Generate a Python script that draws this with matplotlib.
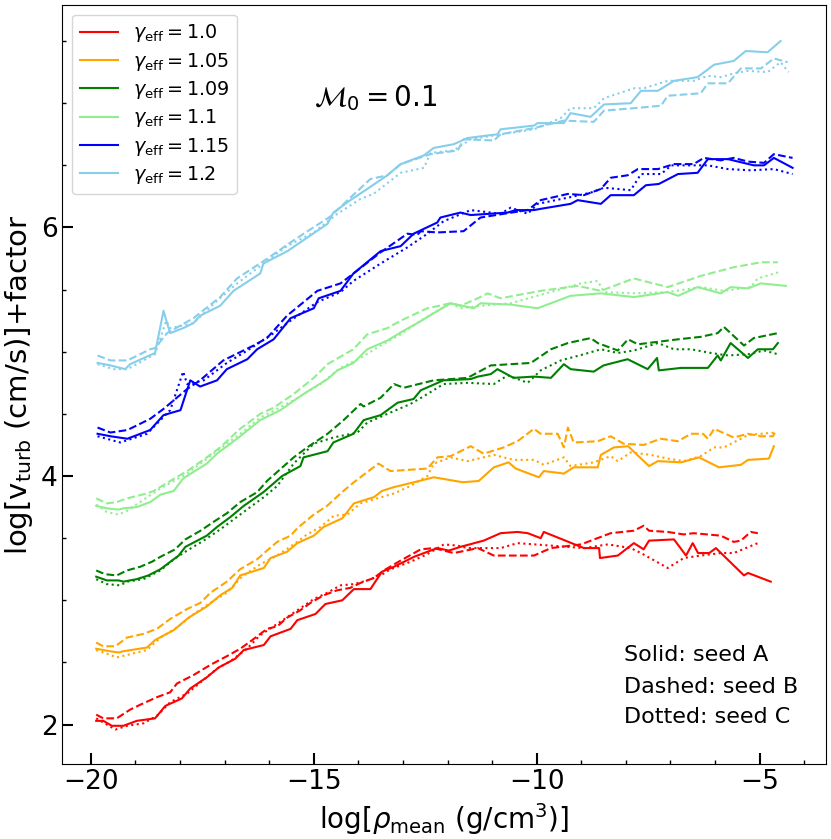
import numpy as np
import matplotlib
matplotlib.use("Agg")
import matplotlib.pyplot as plt
from matplotlib.ticker import MultipleLocator

# (log rho_mean, log v_turb + factor), one array per seed
g100_A = np.array([(-19.88,2.03),(-19.72,2.03),(-19.53,1.99),(-19.27,1.99),(-18.97,2.03),(-18.56,2.05),(-18.33,2.15),(-17.96,2.21),(-17.77,2.29),(-17.40,2.38),(-17.13,2.46),(-16.76,2.53),(-16.57,2.60),(-16.12,2.64),(-15.97,2.71),(-15.52,2.77),(-15.37,2.84),(-14.96,2.89),(-14.74,2.97),(-14.36,3.00),(-14.10,3.09),(-13.73,3.09),(-13.47,3.23),(-13.20,3.27),(-12.75,3.35),(-12.23,3.42),(-11.97,3.40),(-11.71,3.43),(-11.19,3.48),(-10.81,3.54),(-10.43,3.55),(-10.20,3.54),(-9.91,3.50),(-9.84,3.55),(-8.94,3.42),(-8.60,3.42),(-8.58,3.34),(-8.18,3.36),(-7.82,3.46),(-7.60,3.41),(-7.48,3.48),(-6.92,3.49),(-6.65,3.36),(-6.50,3.46),(-6.38,3.38),(-6.13,3.38),(-5.98,3.42),(-5.35,3.20),(-5.26,3.22),(-4.75,3.15)])
g100_B = np.array([(-19.88,2.08),(-19.72,2.05),(-19.42,2.05),(-19.12,2.12),(-18.89,2.16),(-18.52,2.22),(-18.22,2.26),(-18.07,2.33),(-17.69,2.40),(-17.32,2.48),(-16.95,2.55),(-16.65,2.61),(-16.38,2.68),(-16.05,2.77),(-15.82,2.79),(-15.60,2.86),(-15.30,2.92),(-15.07,2.98),(-14.78,3.04),(-14.48,3.08),(-14.18,3.10),(-13.95,3.14),(-13.65,3.18),(-13.43,3.24),(-13.05,3.32),(-12.60,3.41),(-12.31,3.42),(-11.86,3.38),(-11.32,3.42),(-10.96,3.36),(-10.06,3.36),(-9.68,3.42),(-9.00,3.45),(-8.71,3.49),(-8.34,3.54),(-7.82,3.56),(-7.60,3.60),(-7.48,3.56),(-7.06,3.55),(-6.70,3.53),(-6.48,3.54),(-5.87,3.52),(-5.58,3.47),(-5.42,3.48),(-5.20,3.55),(-5.04,3.54)])
g100_C = np.array([(-19.88,2.05),(-19.45,1.96),(-19.19,1.99),(-18.82,2.01),(-18.52,2.07),(-18.22,2.18),(-17.84,2.25),(-17.54,2.34),(-17.17,2.45),(-16.87,2.51),(-16.50,2.61),(-16.20,2.72),(-15.82,2.81),(-15.45,2.90),(-15.00,3.01),(-14.70,3.06),(-14.40,3.12),(-14.10,3.13),(-13.80,3.16),(-13.50,3.20),(-13.28,3.25),(-12.83,3.31),(-12.46,3.37),(-12.08,3.45),(-11.78,3.44),(-11.55,3.42),(-10.81,3.42),(-10.43,3.46),(-9.68,3.44),(-8.94,3.42),(-8.40,3.45),(-7.89,3.42),(-7.66,3.38),(-7.06,3.26),(-6.70,3.34),(-6.32,3.36),(-5.87,3.38),(-5.58,3.38),(-5.04,3.46)])

g105_A = np.array([(-19.88,2.61),(-19.57,2.59),(-19.38,2.58),(-19.27,2.59),(-18.74,2.62),(-18.56,2.68),(-18.14,2.76),(-17.81,2.86),(-17.40,2.95),(-17.10,3.04),(-16.83,3.10),(-16.65,3.20),(-16.12,3.26),(-15.97,3.34),(-15.60,3.39),(-15.37,3.46),(-15.00,3.52),(-14.78,3.59),(-14.36,3.66),(-14.10,3.78),(-13.65,3.83),(-13.47,3.88),(-13.21,3.91),(-12.75,3.95),(-12.31,3.99),(-11.66,3.95),(-11.30,3.96),(-10.96,4.07),(-10.63,4.11),(-10.47,4.06),(-9.95,3.99),(-9.84,4.04),(-9.39,4.02),(-9.17,4.07),(-8.63,4.07),(-8.56,4.17),(-8.27,4.23),(-7.95,4.24),(-7.48,4.08),(-7.28,4.12),(-6.76,4.11),(-6.36,4.15),(-5.91,4.07),(-5.42,4.09),(-5.26,4.13),(-4.79,4.14),(-4.68,4.24)])
g105_B = np.array([(-19.88,2.66),(-19.72,2.63),(-19.45,2.63),(-19.19,2.70),(-18.82,2.73),(-18.52,2.77),(-18.22,2.85),(-17.84,2.93),(-17.54,2.98),(-17.32,3.06),(-16.95,3.15),(-16.65,3.25),(-16.27,3.33),(-16.05,3.40),(-15.82,3.47),(-15.52,3.52),(-15.37,3.58),(-15.00,3.69),(-14.70,3.76),(-14.40,3.86),(-14.10,3.95),(-13.55,4.10),(-13.28,4.04),(-12.45,4.06),(-12.23,4.15),(-11.93,4.16),(-11.48,4.24),(-11.19,4.18),(-10.74,4.23),(-10.43,4.28),(-10.06,4.38),(-9.91,4.34),(-9.53,4.34),(-9.39,4.23),(-9.30,4.39),(-9.17,4.27),(-8.63,4.28),(-8.34,4.32),(-8.05,4.26),(-7.60,4.25),(-7.22,4.30),(-6.83,4.28),(-6.54,4.34),(-6.27,4.34),(-6.16,4.30),(-6.02,4.38),(-5.58,4.31),(-5.26,4.34),(-4.97,4.32),(-4.70,4.32),(-4.63,4.37)])
g105_C = np.array([(-19.88,2.60),(-19.64,2.57),(-19.42,2.54),(-19.19,2.56),(-18.74,2.60),(-18.44,2.70),(-18.07,2.78),(-17.69,2.89),(-17.32,2.98),(-16.95,3.06),(-16.61,3.19),(-16.20,3.29),(-15.82,3.36),(-15.45,3.45),(-15.15,3.53),(-14.85,3.59),(-14.55,3.68),(-14.25,3.69),(-13.95,3.78),(-13.58,3.82),(-13.20,3.86),(-12.83,3.92),(-12.45,4.00),(-12.31,4.10),(-11.93,4.15),(-11.55,4.12),(-10.96,4.17),(-10.52,4.13),(-10.06,4.13),(-9.84,4.09),(-9.39,4.15),(-9.24,4.08),(-8.72,4.11),(-8.34,4.16),(-8.18,4.12),(-7.89,4.19),(-7.44,4.17),(-7.06,4.14),(-6.70,4.12),(-6.32,4.16),(-6.02,4.23),(-5.80,4.23),(-5.26,4.33),(-4.97,4.34),(-4.63,4.35)])

g109_A = np.array([(-19.88,3.19),(-19.64,3.16),(-19.38,3.16),(-19.27,3.15),(-18.97,3.17),(-18.71,3.20),(-18.44,3.25),(-18.03,3.36),(-17.88,3.43),(-17.40,3.52),(-17.17,3.59),(-16.87,3.67),(-16.57,3.76),(-16.13,3.87),(-15.71,4.00),(-15.30,4.08),(-15.23,4.15),(-14.69,4.20),(-14.56,4.27),(-14.11,4.34),(-13.88,4.45),(-13.50,4.49),(-13.12,4.59),(-12.76,4.62),(-12.60,4.69),(-12.09,4.77),(-11.48,4.78),(-11.32,4.80),(-11.03,4.82),(-10.88,4.86),(-10.52,4.79),(-10.06,4.80),(-9.68,4.79),(-9.39,4.90),(-9.24,4.86),(-8.72,4.84),(-8.50,4.89),(-7.96,4.94),(-7.51,4.86),(-7.30,4.95),(-7.26,4.85),(-6.76,4.87),(-6.16,4.87),(-5.94,4.97),(-5.87,4.93),(-5.65,5.07),(-5.26,4.95),(-5.04,5.02),(-4.70,5.02),(-4.59,5.07)])
g109_B = np.array([(-19.88,3.24),(-19.68,3.21),(-19.42,3.20),(-19.19,3.24),(-18.89,3.27),(-18.63,3.31),(-18.44,3.35),(-18.11,3.41),(-17.88,3.49),(-17.54,3.56),(-17.21,3.64),(-16.95,3.70),(-16.65,3.79),(-16.27,3.87),(-16.05,3.96),(-15.45,4.15),(-15.15,4.23),(-14.69,4.34),(-14.33,4.45),(-13.95,4.58),(-13.88,4.56),(-13.50,4.63),(-13.20,4.74),(-12.98,4.71),(-12.76,4.73),(-12.31,4.77),(-11.55,4.79),(-11.03,4.89),(-10.58,4.90),(-10.13,4.91),(-9.68,5.02),(-9.30,5.07),(-8.79,5.11),(-8.63,5.07),(-8.18,5.01),(-7.95,5.10),(-7.73,5.06),(-7.28,5.08),(-6.83,5.10),(-6.32,5.12),(-5.94,5.15),(-5.80,5.20),(-5.35,5.05),(-5.13,5.11),(-4.59,5.15)])
g109_C = np.array([(-19.88,3.17),(-19.64,3.13),(-19.34,3.12),(-19.19,3.15),(-18.82,3.17),(-18.44,3.24),(-18.14,3.33),(-17.84,3.40),(-17.47,3.48),(-17.10,3.57),(-16.80,3.65),(-16.50,3.73),(-16.12,3.83),(-15.82,3.92),(-15.45,4.10),(-15.00,4.26),(-14.56,4.31),(-14.02,4.35),(-13.80,4.43),(-13.35,4.50),(-12.83,4.58),(-12.45,4.66),(-12.09,4.74),(-11.55,4.75),(-10.96,4.74),(-10.65,4.81),(-10.20,4.75),(-9.91,4.85),(-9.46,4.93),(-8.94,4.98),(-8.56,5.02),(-8.18,4.99),(-7.82,5.01),(-7.28,5.07),(-6.92,5.02),(-6.54,5.02),(-6.09,4.99),(-5.71,4.97),(-5.26,4.98),(-4.90,5.01),(-4.59,4.98)])

g110_A = np.array([(-19.88,3.76),(-19.64,3.74),(-19.38,3.73),(-19.27,3.74),(-18.97,3.75),(-18.67,3.79),(-18.44,3.85),(-18.14,3.88),(-17.93,3.98),(-17.40,4.10),(-17.17,4.18),(-16.72,4.30),(-16.20,4.45),(-15.75,4.53),(-15.23,4.66),(-14.69,4.78),(-14.47,4.85),(-14.11,4.91),(-13.80,5.02),(-13.35,5.09),(-12.98,5.17),(-12.68,5.23),(-12.31,5.31),(-11.93,5.39),(-11.41,5.35),(-11.26,5.39),(-10.60,5.38),(-9.98,5.35),(-9.24,5.45),(-8.56,5.47),(-7.82,5.44),(-7.06,5.48),(-6.83,5.45),(-6.39,5.52),(-5.87,5.47),(-5.65,5.52),(-5.26,5.51),(-4.97,5.55),(-4.41,5.53)])
g110_B = np.array([(-19.88,3.82),(-19.64,3.78),(-19.42,3.79),(-19.19,3.82),(-18.74,3.86),(-18.59,3.88),(-18.22,3.96),(-17.84,4.04),(-17.40,4.15),(-17.10,4.23),(-16.65,4.38),(-16.20,4.50),(-15.90,4.55),(-15.45,4.66),(-15.00,4.79),(-14.69,4.90),(-14.11,5.02),(-13.80,5.14),(-13.35,5.19),(-13.05,5.25),(-12.45,5.35),(-11.93,5.39),(-11.71,5.37),(-11.32,5.43),(-11.10,5.47),(-10.81,5.43),(-9.91,5.49),(-9.08,5.53),(-8.56,5.49),(-7.82,5.59),(-7.06,5.52),(-6.32,5.61),(-5.58,5.68),(-4.97,5.72),(-4.59,5.72)])
g110_C = np.array([(-19.88,3.77),(-19.64,3.71),(-19.38,3.69),(-19.19,3.72),(-18.44,3.90),(-17.84,4.02),(-17.25,4.18),(-16.65,4.34),(-16.20,4.47),(-15.45,4.61),(-14.85,4.74),(-14.40,4.87),(-13.95,4.95),(-13.50,5.05),(-13.05,5.14),(-12.60,5.25),(-12.23,5.33),(-11.93,5.39),(-11.71,5.35),(-11.26,5.37),(-10.58,5.39),(-9.30,5.52),(-9.01,5.55),(-8.63,5.57),(-8.49,5.48),(-7.82,5.47),(-7.06,5.48),(-6.32,5.52),(-5.80,5.49),(-5.20,5.52),(-5.04,5.59),(-4.57,5.64)])

g115_A = np.array([(-19.85,4.34),(-19.56,4.32),(-19.18,4.30),(-18.67,4.37),(-18.37,4.49),(-17.99,4.53),(-17.77,4.77),(-17.55,4.72),(-17.17,4.77),(-16.95,4.86),(-16.49,4.94),(-16.27,5.02),(-15.90,5.10),(-15.52,5.27),(-15.00,5.35),(-14.89,5.43),(-14.40,5.49),(-14.11,5.63),(-13.50,5.81),(-13.05,5.85),(-12.76,5.95),(-12.23,6.04),(-12.16,6.08),(-11.71,6.12),(-11.48,6.10),(-10.65,6.12),(-10.47,6.14),(-10.06,6.14),(-9.91,6.15),(-9.24,6.19),(-9.08,6.22),(-8.56,6.19),(-8.34,6.26),(-7.82,6.26),(-7.55,6.34),(-7.26,6.35),(-6.83,6.43),(-6.39,6.44),(-6.16,6.55),(-5.71,6.55),(-5.13,6.50),(-4.90,6.50),(-4.68,6.56),(-4.26,6.48)])
g115_B = np.array([(-19.85,4.39),(-19.56,4.35),(-19.18,4.37),(-18.67,4.46),(-18.37,4.54),(-17.84,4.70),(-17.55,4.77),(-17.03,4.93),(-16.35,5.05),(-16.05,5.11),(-15.60,5.29),(-14.92,5.49),(-14.40,5.55),(-14.18,5.61),(-13.50,5.80),(-12.90,5.95),(-12.68,5.94),(-12.60,5.97),(-12.23,5.96),(-11.64,5.97),(-11.26,6.08),(-10.74,6.11),(-10.20,6.14),(-9.91,6.22),(-9.30,6.27),(-8.94,6.26),(-8.56,6.31),(-8.34,6.40),(-7.96,6.42),(-7.73,6.47),(-7.28,6.47),(-6.92,6.51),(-6.48,6.51),(-6.25,6.56),(-5.87,6.54),(-5.58,6.56),(-5.26,6.53),(-4.90,6.52),(-4.68,6.59),(-4.26,6.56)])
g115_C = np.array([(-19.85,4.32),(-19.34,4.27),(-18.74,4.34),(-18.44,4.45),(-18.22,4.53),(-17.93,4.84),(-17.84,4.74),(-17.47,4.77),(-16.95,4.91),(-16.49,5.01),(-15.90,5.15),(-15.52,5.25),(-14.92,5.40),(-14.40,5.48),(-14.11,5.57),(-13.50,5.71),(-12.90,5.84),(-12.45,5.95),(-12.09,6.05),(-11.48,6.14),(-10.81,6.11),(-10.58,6.16),(-10.20,6.11),(-9.98,6.19),(-9.30,6.24),(-8.79,6.28),(-8.49,6.32),(-7.89,6.30),(-7.66,6.43),(-7.21,6.43),(-6.98,6.50),(-6.48,6.50),(-6.16,6.50),(-5.71,6.47),(-5.20,6.46),(-4.68,6.47),(-4.26,6.43)])

g120_A = np.array([(-19.85,4.91),(-19.56,4.89),(-19.23,4.86),(-19.12,4.90),(-18.56,4.99),(-18.37,5.33),(-18.29,5.23),(-18.22,5.15),(-17.93,5.19),(-17.70,5.23),(-17.55,5.29),(-17.10,5.37),(-16.80,5.49),(-16.20,5.63),(-16.13,5.71),(-15.59,5.81),(-15.14,5.92),(-14.69,6.03),(-14.56,6.12),(-14.18,6.22),(-13.80,6.31),(-13.35,6.42),(-13.05,6.51),(-12.53,6.58),(-12.31,6.64),(-11.86,6.67),(-11.55,6.72),(-10.88,6.75),(-10.81,6.79),(-10.06,6.82),(-9.98,6.84),(-9.39,6.84),(-9.24,6.92),(-8.79,6.89),(-8.49,6.99),(-7.89,7.00),(-7.66,7.10),(-7.28,7.10),(-6.92,7.18),(-6.39,7.21),(-6.02,7.31),(-5.58,7.34),(-5.31,7.42),(-4.82,7.41),(-4.53,7.50)])
g120_B = np.array([(-19.85,4.97),(-19.56,4.93),(-19.18,4.93),(-18.67,5.02),(-18.56,5.03),(-18.29,5.15),(-17.70,5.27),(-17.10,5.44),(-16.72,5.59),(-16.04,5.75),(-15.52,5.88),(-15.14,5.97),(-14.62,6.09),(-14.18,6.24),(-13.73,6.39),(-13.35,6.42),(-13.05,6.51),(-12.38,6.59),(-11.77,6.62),(-11.64,6.71),(-10.96,6.70),(-10.81,6.75),(-10.06,6.80),(-9.39,6.86),(-8.72,6.85),(-8.49,6.94),(-7.82,6.96),(-7.21,6.98),(-7.06,7.06),(-6.32,7.08),(-6.16,7.16),(-5.71,7.16),(-5.42,7.28),(-4.97,7.28),(-4.68,7.36),(-4.37,7.33)])
g120_C = np.array([(-19.85,4.90),(-19.49,4.86),(-19.18,4.86),(-18.56,4.98),(-18.31,5.25),(-18.22,5.19),(-17.70,5.23),(-17.17,5.41),(-16.72,5.55),(-16.20,5.69),(-15.60,5.85),(-15.00,5.96),(-14.47,6.11),(-13.95,6.23),(-13.66,6.27),(-13.05,6.44),(-12.53,6.48),(-12.38,6.60),(-11.86,6.62),(-11.48,6.71),(-10.96,6.74),(-10.06,6.79),(-9.46,6.88),(-9.24,6.96),(-8.72,6.96),(-8.49,7.04),(-7.82,7.12),(-7.60,7.12),(-7.06,7.18),(-6.48,7.18),(-6.16,7.22),(-5.87,7.21),(-5.58,7.24),(-5.26,7.26),(-4.82,7.25),(-4.53,7.33),(-4.35,7.25)])

gammas = ["1.0", "1.05", "1.09", "1.1", "1.15", "1.2"]
colors = ["red", "orange", "green", "lightgreen", "blue", "skyblue"]
runs = [(g100_A, g100_B, g100_C), (g105_A, g105_B, g105_C), (g109_A, g109_B, g109_C),
        (g110_A, g110_B, g110_C), (g115_A, g115_B, g115_C), (g120_A, g120_B, g120_C)]

fig = plt.figure(figsize=(8.31, 8.39), dpi=100)
ax = fig.add_axes([0.075, 0.089, 0.919, 0.905])

for g, c, (sa, sb, sc) in zip(gammas, colors, runs):
    ax.plot(sa[:, 0], sa[:, 1], color=c, ls="-", lw=1.5, label=r"$\gamma_{\rm eff}=$" + g)
    ax.plot(sb[:, 0], sb[:, 1], color=c, ls="--", lw=1.5)
    ax.plot(sc[:, 0], sc[:, 1], color=c, ls=":", lw=1.5)

ax.set_xlim(-20.64, -3.51)
ax.set_ylim(1.68, 7.79)
ax.xaxis.set_major_locator(MultipleLocator(5))
ax.xaxis.set_minor_locator(MultipleLocator(1))
ax.yaxis.set_major_locator(MultipleLocator(2))
ax.yaxis.set_minor_locator(MultipleLocator(0.5))
ax.tick_params(which="both", direction="in", labelsize=19)
ax.tick_params(which="major", length=8, width=1.5)
ax.tick_params(which="minor", length=3, width=1)

ax.set_xlabel(r"log[$\rho_{\rm mean}$ (g/cm$^3$)]", fontsize=20)
ax.set_ylabel(r"log[v$_{\rm turb}$ (cm/s)]+factor", fontsize=21)

ax.text(-15.0, 7.04, r"$\mathcal{M}_0=0.1$", fontsize=20, ha="left", va="center")
ax.text(-8.05, 2.56, "Solid: seed A", fontsize=16, va="center")
ax.text(-8.05, 2.30, "Dashed: seed B", fontsize=16, va="center")
ax.text(-8.05, 2.06, "Dotted: seed C", fontsize=16, va="center")

ax.legend(loc="upper left", fontsize=13.8, labelspacing=0.33)

fig.savefig("out.png", dpi=100)
